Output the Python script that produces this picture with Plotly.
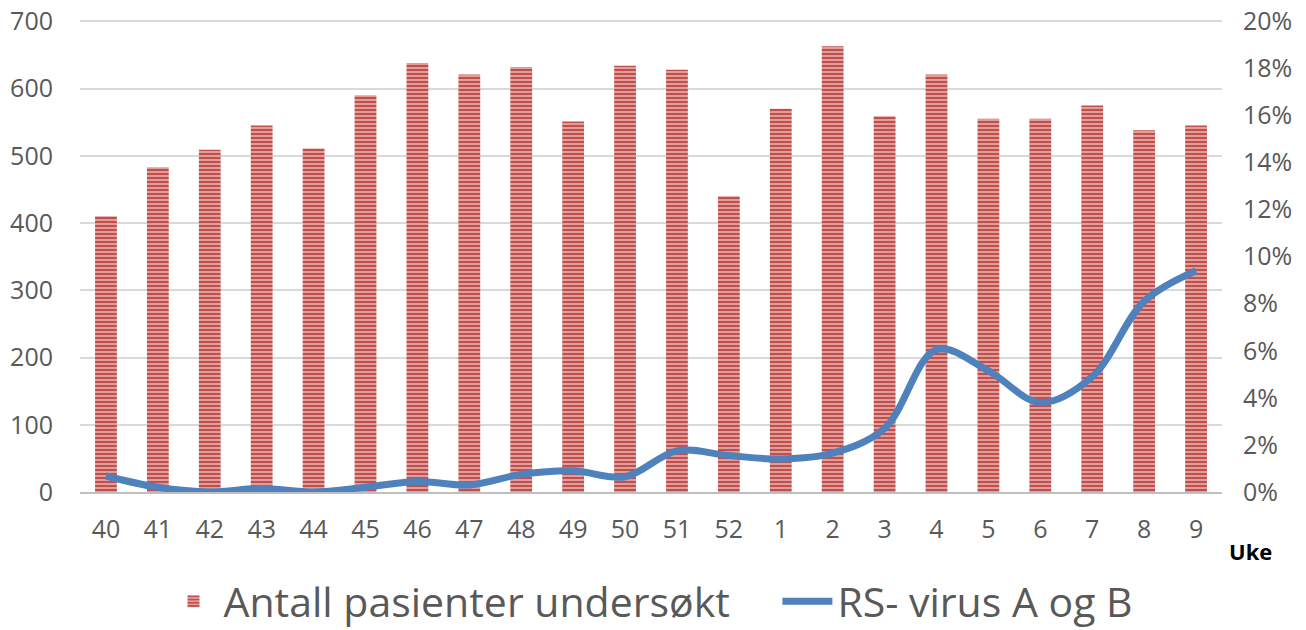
import plotly.graph_objects as go

weeks = ["40","41","42","43","44","45","46","47","48","49","50","51","52","1","2","3","4","5","6","7","8","9"]
patients = [410,483,509,545,511,590,638,621,632,551,634,628,440,570,663,559,621,555,555,575,538,545]
rsv_pct = [0.68,0.2,0.0,0.15,0.0,0.2,0.45,0.3,0.75,0.9,0.65,1.75,1.55,1.4,1.65,2.7,6.05,5.15,3.8,4.9,8.1,9.4]

FONT = "Open Sans"
GREY = "#595959"

fig = go.Figure()
fig.add_trace(go.Bar(
    x=weeks, y=patients, name="Antall pasienter undersøkt\u00a0\u00a0\u00a0\u00a0",
    width=0.42,
    marker=dict(color="#e8aaa8", line=dict(width=0),
                pattern=dict(shape="-", fgcolor="#c0504d", bgcolor="#eab0ae",
                             size=4, solidity=0.6, fillmode="replace")),
))
fig.add_trace(go.Scatter(
    x=weeks, y=[v/100 for v in rsv_pct], name="RS- virus A og B", yaxis="y2",
    mode="lines", line=dict(color="#4f81bd", width=7, shape="spline", smoothing=1.0),
))

fig.update_layout(
    width=1298, height=622,
    margin=dict(l=72, r=84, t=12, b=138, autoexpand=False),
    plot_bgcolor="white", paper_bgcolor="white",
    font=dict(family=FONT, color=GREY, size=25),
    xaxis=dict(type="category", showgrid=False, showline=True, linecolor="#bfbfbf", linewidth=2,
               ticks="", tickfont=dict(size=25, color=GREY), ticklabelstandoff=14, automargin=False),
    yaxis=dict(range=[0, 702], tickvals=[0,100,200,300,400,500,600,700], showgrid=True,
               gridcolor="#d9d9d9", gridwidth=1.5, ticklabeloverflow="allow",
               zeroline=False, ticks="", tickfont=dict(size=25, color=GREY), ticklabelstandoff=26,
               automargin=False),
    yaxis2=dict(range=[0, 0.2*702/700], tickvals=[0,0.02,0.04,0.06,0.08,0.1,0.12,0.14,0.16,0.18,0.2],
                tickformat=".0%", overlaying="y", side="right", ticklabeloverflow="allow",
                showgrid=False, zeroline=False, ticks="", tickfont=dict(size=25, color=GREY),
                ticklabelstandoff=20, automargin=False),
    legend=dict(orientation="h", x=0.5, xanchor="center", y=-0.232, yanchor="middle",
                font=dict(size=41, color=GREY), itemwidth=50),
    annotations=[dict(text="<b>Uke</b>", x=1.004, xref="paper", y=-0.125, yref="paper",
                      xanchor="left", yanchor="middle", showarrow=False,
                      font=dict(size=22, color="black", family=FONT))],
)

fig.write_html("out.html")
